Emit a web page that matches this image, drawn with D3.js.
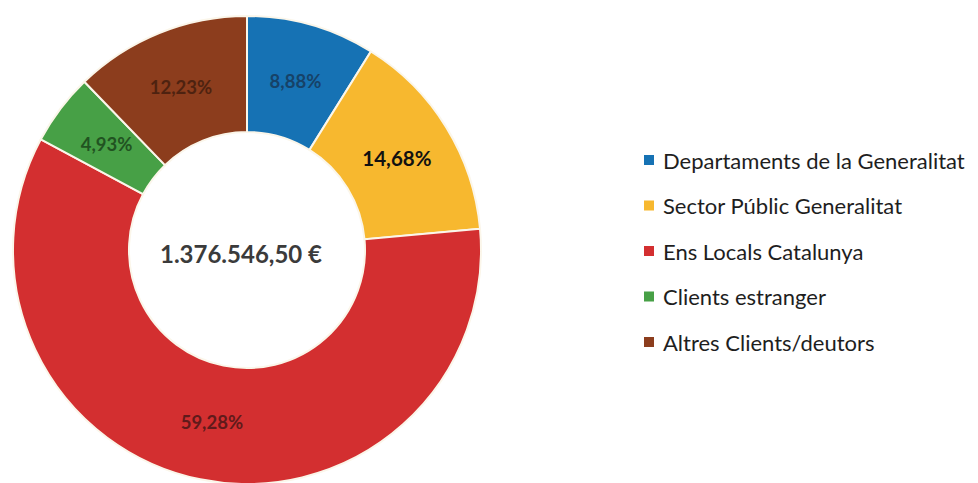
<!DOCTYPE html>
<html lang="ca">
<head>
<meta charset="UTF-8">
<title>Clients/deutors</title>
<script src="https://d3js.org/d3.v7.min.js"></script>
<style>
  body { margin: 0; background: #fff; }
  text { font-family: Lato, "Open Sans", sans-serif; }
</style>
</head>
<body>
<script>
    const categories = ["Departaments de la Generalitat", "Sector Públic Generalitat", "Ens Locals Catalunya", "Clients estranger", "Altres Clients/deutors"];
    const shares = [8.88, 14.68, 59.28, 4.93, 12.23];
    const labels = ["8,88%", "14,68%", "59,28%", "4,93%", "12,23%"];
    const total = "1.376.546,50 €";

    const colors = ["#1672b4", "#f7b82f", "#d32f30", "#47a046", "#8c3d1d"];
    const labelColors = ["#17334f", "#111111", "#3a1414", "#153a15", "#3a1a0c"];

    const width = 978;
    const height = 483;
    const cx = 247, cy = 250;
    const outerR = 234, innerR = 118;

    const svg = d3.select("body").append("svg")
        .attr("width", width)
        .attr("height", height);

    const pie = d3.pie().sort(null).value(d => d);
    const arcs = pie(shares);

    const arc = d3.arc().innerRadius(innerR).outerRadius(outerR);

    const g = svg.append("g").attr("transform", `translate(${cx},${cy})`);

    g.selectAll("path.slice")
        .data(arcs)
        .join("path")
        .attr("class", "slice")
        .attr("d", arc)
        .attr("fill", (d, i) => colors[i])
        .attr("stroke", "#fbf6ea")
        .attr("stroke-width", 2);

    g.selectAll("text.pct")
        .data(arcs)
        .join("text")
        .attr("class", "pct")
        .attr("transform", d => `translate(${arc.centroid(d)})`)
        .attr("text-anchor", "middle")
        .attr("dominant-baseline", "central")
        .attr("font-weight", "bold")
        .attr("font-size", (d, i) => i === 1 ? 20.5 : 18.5)
        .attr("fill", (d, i) => labelColors[i])
        .attr("opacity", (d, i) => i === 1 ? 1 : 0.75)
        .text((d, i) => labels[i]);

    g.append("text")
        .attr("x", -6)
        .attr("y", 3)
        .attr("text-anchor", "middle")
        .attr("dominant-baseline", "central")
        .attr("font-weight", "bold")
        .attr("font-size", 24)
        .attr("fill", "#3b3b3b")
        .text(total);

    // legend
    const legend = svg.append("g").attr("transform", "translate(644,160)");
    const item = legend.selectAll("g")
        .data(categories)
        .join("g")
        .attr("transform", (d, i) => `translate(0,${i * 45.5})`);

    item.append("rect")
        .attr("x", 0).attr("y", -5)
        .attr("width", 10).attr("height", 10)
        .attr("fill", (d, i) => colors[i]);

    item.append("text")
        .attr("x", 19)
        .attr("dominant-baseline", "central")
        .attr("font-size", 22)
        .attr("fill", "#1e1e1e")
        .text(d => d);
</script>
</body>
</html>
